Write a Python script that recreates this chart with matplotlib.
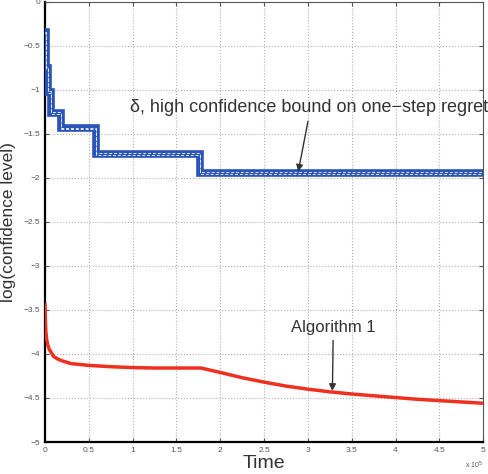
import numpy as np
import matplotlib.pyplot as plt

plt.rcParams['font.family'] = ['Liberation Sans', 'DejaVu Sans']

# time axis in units of 1e5
bound_x = [0.0, 0.012, 0.012, 0.035, 0.035, 0.065, 0.065, 0.185, 0.185, 0.58, 0.58, 1.77, 1.77, 5.0]
bound_y = [-0.35, -0.35, -0.75, -0.75, -1.03, -1.03, -1.26, -1.26, -1.44, -1.44, -1.73, -1.73, -1.95, -1.95]

algo_x = [0.0, 0.005, 0.01, 0.02, 0.035, 0.05, 0.075, 0.1, 0.15, 0.2, 0.3, 0.5, 0.75, 1.0, 1.25, 1.5, 1.78,
          2.0, 2.25, 2.5, 2.75, 3.0, 3.25, 3.5, 3.75, 4.0, 4.25, 4.5, 4.75, 5.0]
algo_y = [-3.44, -3.62, -3.75, -3.84, -3.91, -3.95, -3.99, -4.03, -4.06, -4.08, -4.11, -4.13, -4.145, -4.155,
          -4.16, -4.16, -4.16, -4.21, -4.27, -4.32, -4.365, -4.40, -4.43, -4.455, -4.475, -4.495, -4.515,
          -4.53, -4.545, -4.56]

xticks = [0, 0.5, 1, 1.5, 2, 2.5, 3, 3.5, 4, 4.5, 5]
yticks = [-5, -4.5, -4, -3.5, -3, -2.5, -2, -1.5, -1, -0.5, 0]

fig = plt.figure(figsize=(4.89, 4.74), dpi=100)
ax = fig.add_axes([0.092, 0.0675, 0.896, 0.929])

# thick blue band with white dashes inside
ax.plot(bound_x, bound_y, color='#2a55b8', lw=5.5, solid_joinstyle='miter', zorder=3)
by = np.array(bound_y)
ax.plot(bound_x, by + 0.011, color='#dfe6f5', lw=0.7, ls=(0, (3, 2)), zorder=4)
ax.plot(bound_x, by - 0.011, color='#dfe6f5', lw=0.7, ls=(0, (3, 2)), zorder=4)

ax.plot(algo_x, algo_y, color='#f0301e', lw=2.5, zorder=3)

ax.set_xlim(0, 5)
ax.set_ylim(-5, 0)
ax.set_xticks(xticks)
ax.set_yticks(yticks)
ax.set_xticklabels([f'{t:g}' for t in xticks])
ax.set_yticklabels([f'{t:g}'.replace('-', '\u2212') for t in yticks])
ax.tick_params(labelsize=6, colors='#555555', direction='in', length=3, top=True, right=True)
ax.grid(True, ls=':', color='#b0b0b0', lw=0.8)
for s in ['left', 'bottom']:
    ax.spines[s].set_linewidth(1.6)
for s in ['top', 'right']:
    ax.spines[s].set_linewidth(0.8)
    ax.spines[s].set_color('#555555')

ax.set_xlabel('Time', fontsize=14, color='#333333', labelpad=1)
ax.set_ylabel('log(confidence level)', fontsize=12.5, color='#333333', labelpad=5)
ax.text(1.0, -0.04, r'x 10$^5$', transform=ax.transAxes, fontsize=5, ha='right', va='top', color='#555555')

ax.annotate('\u03b4, high confidence bound on one\u2212step regret', xy=(2.89, -1.93), xytext=(0.97, -1.2),
            fontsize=13, color='#333333', va='center', ha='left',
            arrowprops=dict(arrowstyle='-|>', color='#333333', lw=1, mutation_scale=10,
                            shrinkA=2, shrinkB=0, relpos=(0.5, 0.0)))
ax.annotate('Algorithm 1', xy=(3.28, -4.42), xytext=(3.29, -3.7),
            fontsize=12, color='#333333', va='center', ha='center',
            arrowprops=dict(arrowstyle='-|>', color='#333333', lw=1, mutation_scale=10,
                            shrinkA=2, shrinkB=0))

fig.savefig('out.png', dpi=100)
